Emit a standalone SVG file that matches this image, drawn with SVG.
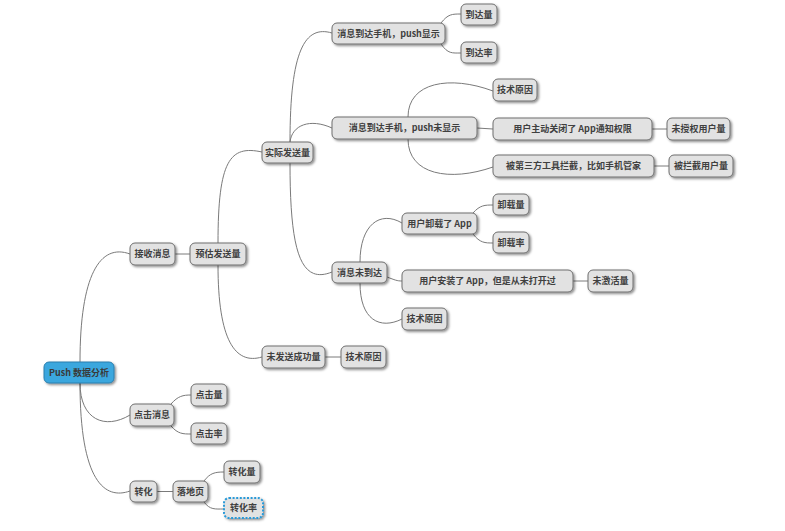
<svg xmlns="http://www.w3.org/2000/svg" width="785" height="531" viewBox="0 0 785 531">
<defs>
<filter id="sh" x="-20%" y="-30%" width="150%" height="180%">
<feDropShadow dx="1.5" dy="1.5" stdDeviation="1" flood-color="#000" flood-opacity="0.45"/>
</filter>
<style>
.n rect{fill:#e2e2e2;stroke:#6e6e6e;stroke-width:1;filter:url(#sh)}
.n text{font-family:"Noto Sans CJK SC","Liberation Sans",sans-serif;font-size:9px;font-weight:bold;fill:#404040;text-anchor:middle}
#root rect{fill:#3ba7de;stroke:#2d7fae}
#root text{fill:#3a3a3a}
#n28 rect{stroke:#2a9ad8;stroke-width:2;stroke-dasharray:2 1.6}
.c path,.c line{fill:none;stroke:#7a7a7a;stroke-width:1}
</style>
</defs>
<rect width="785" height="531" fill="#fff"/>
<g class="c" id="connectors">
<path d="M80,362 C80,275 100,243 130,254"/>
<path d="M80,383 C80,420 105,430 130,415"/>
<path d="M80,383 C80,482 105,500 130,491"/>
<line x1="175" y1="254" x2="190" y2="254"/>
<path d="M218,243 C218,160 230,145 262,152"/>
<path d="M218,265 C218,340 235,365 262,357"/>
<path d="M290,142 C290,50 305,25 332,33"/>
<path d="M290,142 C292,125 310,118 332,128"/>
<path d="M290,163 C290,250 300,285 332,272"/>
<path d="M441,23 C448,14 452,14 461,14"/>
<path d="M441,44 C448,54 452,53 461,53"/>
<path d="M408,117 C408,82 450,75 493,91"/>
<line x1="477" y1="128" x2="493" y2="129"/>
<path d="M408,139 C408,175 450,182 493,167"/>
<line x1="652" y1="129" x2="667" y2="129"/>
<line x1="654" y1="166" x2="669" y2="166"/>
<path d="M360,262 C360,225 380,210 402,223"/>
<path d="M387,277 C395,280 397,281 402,281"/>
<path d="M360,283 C360,320 380,330 402,319"/>
<path d="M473,213 C480,205 485,205 493,205"/>
<path d="M473,234 C480,243 485,243 493,243"/>
<line x1="573" y1="281" x2="588" y2="281"/>
<line x1="325" y1="357" x2="341" y2="357"/>
<path d="M171,404 C178,396 183,395 191,395"/>
<path d="M171,426 C178,434 183,434 191,434"/>
<line x1="157" y1="491.5" x2="173" y2="491.5"/>
<path d="M204,481 C210,473 215,472 224,472"/>
<path d="M204,502 C210,510 215,509 224,509"/>
</g>
<g class="n" id="root"><rect x="44" y="362" width="70" height="21" rx="5"/><text x="79" y="375.5">Push 数据分析</text></g>
<g class="n" id="n1"><rect x="130" y="243" width="45" height="22" rx="5"/><text x="152.5" y="257">接收消息</text></g>
<g class="n" id="n2"><rect x="190" y="243" width="56" height="22" rx="5"/><text x="218" y="257">预估发送量</text></g>
<g class="n" id="n3"><rect x="262" y="142" width="51" height="21" rx="5"/><text x="287.5" y="155.5">实际发送量</text></g>
<g class="n" id="n4"><rect x="332" y="23" width="113" height="21" rx="5"/><text x="388.5" y="36.5">消息到达手机，push显示</text></g>
<g class="n" id="n5"><rect x="461" y="4" width="36" height="21" rx="5"/><text x="479" y="17.5">到达量</text></g>
<g class="n" id="n6"><rect x="461" y="42" width="36" height="21" rx="5"/><text x="479" y="55.5">到达率</text></g>
<g class="n" id="n7"><rect x="332" y="117" width="145" height="22" rx="5"/><text x="404.5" y="131">消息到达手机，push未显示</text></g>
<g class="n" id="n8"><rect x="493" y="79" width="44" height="22" rx="5"/><text x="515" y="93">技术原因</text></g>
<g class="n" id="n9"><rect x="493" y="118" width="159" height="22" rx="5"/><text x="572.5" y="132">用户主动关闭了 App通知权限</text></g>
<g class="n" id="n10"><rect x="667" y="118" width="63" height="22" rx="5"/><text x="698.5" y="132">未授权用户量</text></g>
<g class="n" id="n11"><rect x="493" y="155" width="161" height="22" rx="5"/><text x="573.5" y="169">被第三方工具拦截，比如手机管家</text></g>
<g class="n" id="n12"><rect x="669" y="155" width="64" height="22" rx="5"/><text x="701" y="169">被拦截用户量</text></g>
<g class="n" id="n13"><rect x="332" y="262" width="55" height="21" rx="5"/><text x="359.5" y="275.5">消息未到达</text></g>
<g class="n" id="n14"><rect x="402" y="213" width="75" height="21" rx="5"/><text x="439.5" y="226.5">用户卸载了 App</text></g>
<g class="n" id="n15"><rect x="493" y="194" width="36" height="21" rx="5"/><text x="511" y="207.5">卸载量</text></g>
<g class="n" id="n16"><rect x="493" y="232" width="36" height="21" rx="5"/><text x="511" y="245.5">卸载率</text></g>
<g class="n" id="n17"><rect x="402" y="270" width="171" height="22" rx="5"/><text x="487.5" y="284">用户安装了 App，但是从未打开过</text></g>
<g class="n" id="n18"><rect x="588" y="270" width="45" height="22" rx="5"/><text x="610.5" y="284">未激活量</text></g>
<g class="n" id="n19"><rect x="402" y="308" width="45" height="22" rx="5"/><text x="424.5" y="322">技术原因</text></g>
<g class="n" id="n20"><rect x="262" y="346" width="63" height="22" rx="5"/><text x="293.5" y="360">未发送成功量</text></g>
<g class="n" id="n21"><rect x="341" y="346" width="45" height="22" rx="5"/><text x="363.5" y="360">技术原因</text></g>
<g class="n" id="n22"><rect x="130" y="404" width="44" height="22" rx="5"/><text x="152" y="418">点击消息</text></g>
<g class="n" id="n23"><rect x="191" y="384" width="36" height="22" rx="5"/><text x="209" y="398">点击量</text></g>
<g class="n" id="n24"><rect x="191" y="423" width="36" height="21" rx="5"/><text x="209" y="436.5">点击率</text></g>
<g class="n" id="n25"><rect x="130" y="481" width="27" height="21" rx="5"/><text x="143.5" y="494.5">转化</text></g>
<g class="n" id="n26"><rect x="173" y="481" width="35" height="21" rx="5"/><text x="190.5" y="494.5">落地页</text></g>
<g class="n" id="n27"><rect x="224" y="461" width="36" height="22" rx="5"/><text x="242" y="475">转化量</text></g>
<g class="n" id="n28"><rect x="224" y="498" width="39" height="20" rx="5"/><text x="243.5" y="511">转化率</text></g>
</svg>
